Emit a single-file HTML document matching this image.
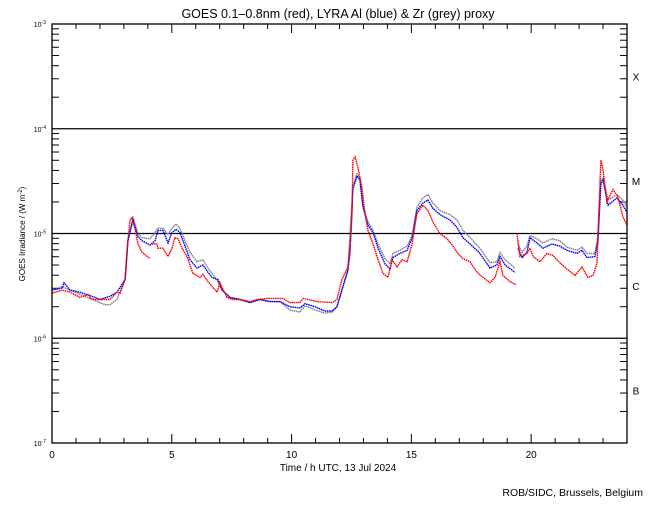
<!DOCTYPE html>
<html><head><meta charset="utf-8"><style>
body{margin:0;background:#fff;}
svg text{font-family:"Liberation Sans",sans-serif;fill:#000;}
</style></head><body>
<svg id="chart" width="650" height="500" viewBox="0 0 650 500" xmlns="http://www.w3.org/2000/svg">
<rect width="650" height="500" fill="#fff"/>
<text x="338" y="18" font-size="12.5" text-anchor="middle">GOES 0.1–0.8nm (red), LYRA Al (blue) &amp; Zr (grey) proxy</text>
<g id="axes"></g>
<g id="series"></g>
<rect x="52" y="24" width="575" height="419" fill="none" stroke="#000" stroke-width="1.3"/>
<text x="338" y="471" font-size="10" text-anchor="middle">Time / h UTC, 13 Jul 2024</text>
<text transform="translate(25,234) rotate(-90)" font-size="8" text-anchor="middle">GOES Irradiance / (W m<tspan font-size="6" dy="-3">-2</tspan><tspan dy="3">)</tspan></text>
<text x="643" y="496" font-size="10.5" text-anchor="end">ROB/SIDC, Brussels, Belgium</text>
</svg>
<script>
const xTicks = [0,5,10,15,20];
const yDecades = [-3,-4,-5,-6,-7];
const flareClasses = ["X","M","C","B"];
const redTime = [0,0.42,0.75,1.17,1.54,1.59,1.79,2.00,2.42,2.71,2.84,3.05,3.17,3.26,3.34,3.46,3.59,3.76,4.09,4.13,4.17,4.38,4.42,4.63,4.84,5.01,5.13,5.26,5.43,5.63,5.88,6.18,6.30,6.51,6.89,7.01,7.30,7.51,7.85,8.26,8.56,8.97,9.64,9.93,10.35,10.48,11.06,11.69,11.89,12.02,12.10,12.35,12.48,12.52,12.56,12.65,12.77,12.94,13.06,13.19,13.40,13.61,13.81,14.02,14.19,14.40,14.61,14.82,15.03,15.23,15.48,15.69,15.90,16.19,16.49,16.74,16.94,17.15,17.45,17.74,17.99,18.28,18.49,18.70,18.82,19.12,19.37,19.39,19.41,19.53,19.82,19.95,20.08,20.37,20.66,20.91,21.20,21.49,21.83,22.12,22.37,22.58,22.75,22.79,22.91,23.00,23.16,23.41,23.62,23.83,24.0];
const redLog = [-5.57,-5.54,-5.56,-5.61,-5.58,-5.62,-5.63,-5.63,-5.63,-5.56,-5.57,-5.44,-5.07,-4.87,-4.85,-4.95,-5.10,-5.18,-5.24,null,-5.10,-5.10,-5.14,-5.14,-5.22,-5.14,-5.04,-5.05,-5.14,-5.22,-5.38,-5.42,-5.39,-5.46,-5.56,-5.47,-5.61,-5.63,-5.63,-5.65,-5.63,-5.62,-5.62,-5.66,-5.66,-5.62,-5.65,-5.66,-5.63,-5.51,-5.44,-5.32,-5.00,-4.81,-4.30,-4.27,-4.37,-4.56,-4.81,-4.97,-5.10,-5.25,-5.38,-5.42,-5.25,-5.32,-5.25,-5.27,-5.10,-4.81,-4.73,-4.78,-4.89,-5.00,-5.05,-5.12,-5.19,-5.24,-5.27,-5.37,-5.42,-5.47,-5.42,-5.27,-5.40,-5.46,-5.49,null,-5.00,-5.22,-5.19,-5.14,-5.22,-5.27,-5.19,-5.21,-5.28,-5.34,-5.40,-5.32,-5.42,-5.40,-5.28,-5.00,-4.30,-4.39,-4.70,-4.58,-4.65,-4.84,-4.92];
const blueTime = [0,0.42,0.50,0.75,1.17,1.79,2.00,2.42,2.71,3.05,3.17,3.38,3.59,3.76,4.09,4.30,4.42,4.63,4.84,5.01,5.18,5.34,5.55,5.76,6.05,6.30,6.51,6.68,6.93,7.10,7.43,7.85,8.26,8.68,9.10,9.52,9.93,10.35,10.56,10.98,11.39,11.69,11.89,12.10,12.35,12.44,12.56,12.73,12.85,12.98,13.19,13.40,13.61,13.90,14.11,14.23,14.52,14.82,15.03,15.23,15.48,15.69,15.90,16.19,16.61,16.90,17.15,17.45,17.86,18.28,18.57,18.70,18.91,19.32,19.39,19.45,19.62,19.82,19.95,20.24,20.49,20.87,21.20,21.49,21.91,22.12,22.33,22.66,22.79,22.91,23.00,23.21,23.58,23.83,24.0];
const blueLog = [-5.54,-5.52,-5.47,-5.54,-5.56,-5.61,-5.63,-5.60,-5.56,-5.44,-5.07,-4.87,-5.03,-5.07,-5.11,-5.07,-4.97,-4.97,-5.09,-4.99,-4.96,-4.99,-5.12,-5.25,-5.33,-5.30,-5.37,-5.42,-5.44,-5.54,-5.61,-5.63,-5.66,-5.63,-5.65,-5.65,-5.70,-5.71,-5.67,-5.70,-5.74,-5.74,-5.70,-5.54,-5.35,-5.19,-4.58,-4.45,-4.49,-4.75,-4.92,-4.99,-5.14,-5.29,-5.34,-5.23,-5.19,-5.16,-5.04,-4.78,-4.71,-4.68,-4.76,-4.82,-4.87,-4.94,-5.04,-5.10,-5.19,-5.33,-5.30,-5.22,-5.30,-5.37,null,-5.14,-5.23,-5.18,-5.04,-5.09,-5.14,-5.10,-5.12,-5.16,-5.19,-5.16,-5.23,-5.22,-5.07,-4.52,-4.49,-4.73,-4.66,-4.73,-4.80];
const greyTime = [0,0.42,1.17,2.00,2.21,2.42,2.71,3.05,3.17,3.38,3.59,3.76,4.09,4.30,4.42,4.63,4.84,5.01,5.18,5.34,5.55,5.76,6.05,6.30,6.51,6.68,6.93,7.10,7.43,7.85,8.26,8.68,9.10,9.52,9.93,10.35,10.56,10.98,11.39,11.69,11.89,12.10,12.35,12.56,12.73,12.85,12.98,13.19,13.40,13.61,13.90,14.11,14.23,14.52,14.82,15.03,15.23,15.48,15.69,15.90,16.19,16.61,16.90,17.15,17.45,17.86,18.28,18.57,18.70,18.91,19.32,19.39,19.45,19.62,19.82,19.95,20.24,20.49,20.87,21.20,21.49,21.91,22.12,22.33,22.66,22.79,22.91,23.00,23.21,23.58,23.83,24.0];
const greyLog = [-5.54,-5.51,-5.58,-5.66,-5.68,-5.68,-5.63,-5.44,-5.07,-4.85,-5.00,-5.04,-5.05,-4.99,-4.95,-4.95,-5.01,-4.95,-4.91,-4.95,-5.07,-5.18,-5.27,-5.25,-5.33,-5.38,-5.46,-5.54,-5.61,-5.63,-5.66,-5.63,-5.65,-5.65,-5.73,-5.75,-5.69,-5.73,-5.76,-5.75,-5.70,-5.54,-5.35,-4.54,-4.43,-4.47,-4.73,-4.89,-4.97,-5.10,-5.24,-5.29,-5.19,-5.16,-5.12,-5.02,-4.75,-4.66,-4.63,-4.71,-4.78,-4.82,-4.87,-4.97,-5.04,-5.14,-5.28,-5.27,-5.18,-5.25,-5.33,null,-5.10,-5.18,-5.12,-5.02,-5.05,-5.09,-5.05,-5.07,-5.13,-5.16,-5.13,-5.19,-5.19,-5.02,-4.49,-4.47,-4.68,-4.63,-4.68,-4.75];

const X0=52,X1=627,Y0=24,Y1=443;
function xs(h){return X0+(X1-X0)*h/24;}
function ys(l){return Y0+(-3-l)*(Y1-Y0)/4;}
const NS="http://www.w3.org/2000/svg";
function mk(tag,attrs,parent){const e=document.createElementNS(NS,tag);for(const k in attrs)e.setAttribute(k,attrs[k]);parent.appendChild(e);return e;}
const axes=document.getElementById('axes');
for(let h=0;h<=24;h++){
  const major=xTicks.includes(h);const len=major?9:5;const x=xs(h);
  const t1=mk('line',{x1:x,x2:x,y1:Y1,y2:Y1-len,stroke:'#000'},axes);
  
  
  const t2=mk('line',{x1:x,x2:x,y1:Y0,y2:Y0+len,stroke:'#000'},axes);
  
  
}
xTicks.forEach(h=>{
  const t=mk('text',{x:xs(h),y:458,'font-size':10,'text-anchor':'middle'},axes);t.textContent=h;
  
  
});
yDecades.forEach((d,i)=>{
  const y=ys(d);
  if(d<-3&&d>-7){const g=mk('line',{x1:X0,x2:X1,y1:y,y2:y,stroke:'#000','stroke-width':1.3},axes);
    
    }
  const t=mk('text',{x:46,y:y+3,'font-size':7,'text-anchor':'end'},axes);
  t.innerHTML='10<tspan font-size="5" dy="-3">'+d+'</tspan>';
  
  
  if(i<yDecades.length-1){
    for(let k=2;k<=9;k++){
      const yy=ys(d-1+Math.log10(k));
      const a=mk('line',{x1:X0,x2:X0+7,y1:yy,y2:yy,stroke:'#000'},axes);
      
      
      const b=mk('line',{x1:X1,x2:X1-7,y1:yy,y2:yy,stroke:'#000'},axes);
      
      
    }
  }
});
flareClasses.forEach((c,i)=>{
  const t=mk('text',{x:636,y:ys(-3.5-i)+4,'font-size':10,'text-anchor':'middle'},axes);t.textContent=c;
  
  
});
const sg=document.getElementById('series');
function draw(times,vals,color,name){
  let d='',pen=false;
  for(let i=0;i<times.length;i++){
    if(vals[i]===null){pen=false;continue;}
    d+=(pen?'L':'M')+xs(times[i]).toFixed(1)+' '+ys(vals[i]).toFixed(1);pen=true;
  }
  const p=mk('path',{d:d,fill:'none',stroke:color,'stroke-width':1.4,'stroke-dasharray':'1.6 0.6'},sg);
  
  
}
draw(greyTime,greyLog,'#808080','zr-grey-series');
draw(blueTime,blueLog,'#0000ff','al-blue-series');
draw(redTime,redLog,'#ff0000','goes-red-series');
</script>
</body></html>
